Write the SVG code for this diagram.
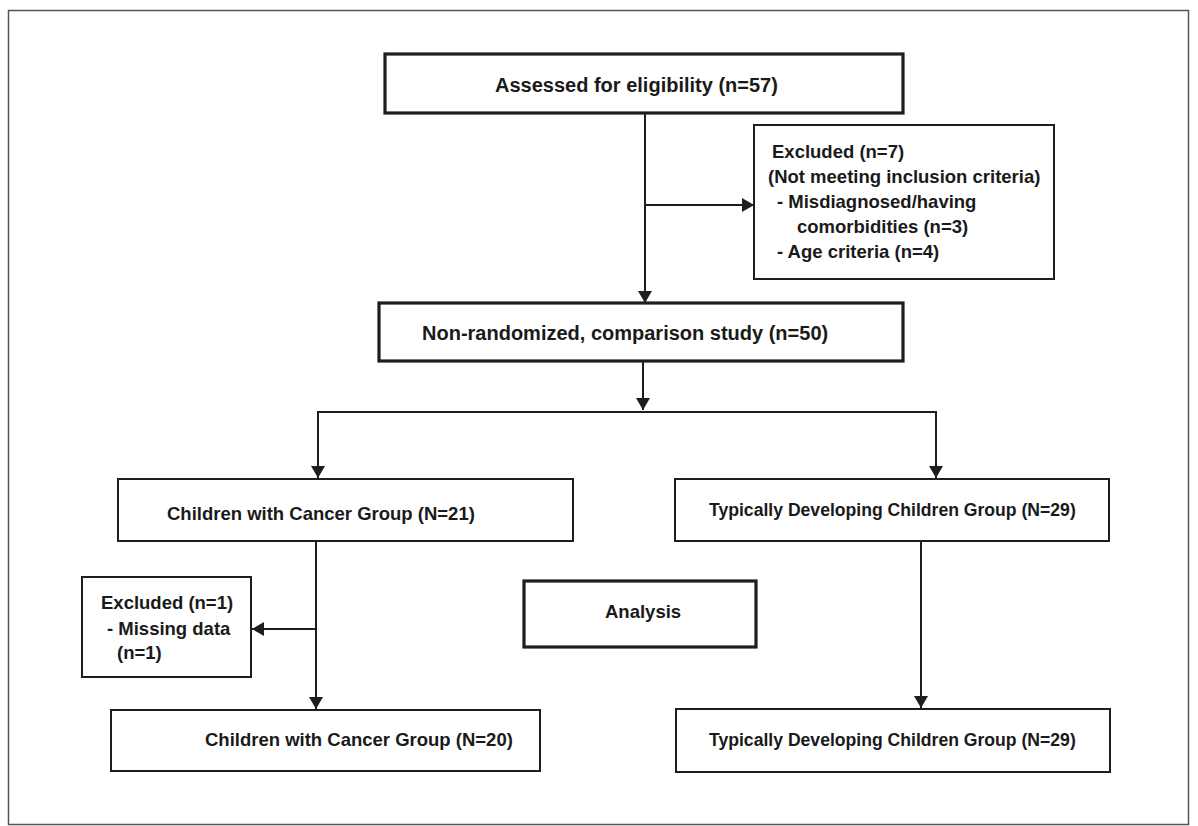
<svg xmlns="http://www.w3.org/2000/svg" width="1198" height="826" viewBox="0 0 1198 826">
<style>
  .box{fill:#fff;stroke:#1e1e1e;stroke-width:2}
  .thick{stroke-width:3.2}
  .t{font-family:"Liberation Sans",Arial,sans-serif;font-weight:bold;fill:#1a1a1a;font-size:18.5px}
  .big{font-size:20px}
  .c{stroke:#1e1e1e;stroke-width:2;fill:none}
</style>
<defs>
  <marker id="ah" markerUnits="userSpaceOnUse" markerWidth="12" markerHeight="14" viewBox="0 0 12 14" refX="12" refY="7" orient="auto">
    <path d="M0,0 L12,7 L0,14 Z" fill="#1e1e1e"/>
  </marker>
</defs>
<rect x="0" y="0" width="1198" height="826" fill="#fff"/>
<rect x="8.5" y="10.5" width="1180" height="814" fill="none" stroke="#555" stroke-width="1.5"/>

<g id="connectors">
  <line class="c" x1="645" y1="114" x2="645" y2="303" marker-end="url(#ah)"/>
  <line class="c" x1="645" y1="205" x2="754" y2="205" marker-end="url(#ah)"/>
  <line class="c" x1="643" y1="362" x2="643" y2="410" marker-end="url(#ah)"/>
  <line class="c" x1="317" y1="412" x2="937" y2="412"/>
  <line class="c" x1="318" y1="411" x2="318" y2="478" marker-end="url(#ah)"/>
  <line class="c" x1="936" y1="411" x2="936" y2="478" marker-end="url(#ah)"/>
  <line class="c" x1="316" y1="542" x2="316" y2="709" marker-end="url(#ah)"/>
  <line class="c" x1="316" y1="629" x2="252" y2="629" marker-end="url(#ah)"/>
  <line class="c" x1="921" y1="542" x2="921" y2="708" marker-end="url(#ah)"/>
</g>

<g id="assessed">
  <rect class="box thick" x="385" y="54" width="518" height="59"/>
  <text class="t big" x="495" y="92">Assessed for eligibility (n=57)</text>
</g>

<g id="excluded7">
  <rect class="box" x="754" y="125" width="300" height="154"/>
  <text class="t" x="772" y="158">Excluded (n=7)</text>
  <text class="t" x="768" y="183">(Not meeting inclusion criteria)</text>
  <text class="t" x="777" y="208">- Misdiagnosed/having</text>
  <text class="t" x="797" y="233">comorbidities (n=3)</text>
  <text class="t" x="777" y="258">- Age criteria (n=4)</text>
</g>

<g id="nonrandomized">
  <rect class="box thick" x="379" y="303" width="524" height="58"/>
  <text class="t big" x="422" y="340">Non-randomized, comparison study (n=50)</text>
</g>

<g id="cancer21">
  <rect class="box" x="118" y="479" width="455" height="62"/>
  <text class="t" x="167" y="520">Children with Cancer Group (N=21)</text>
</g>

<g id="typical29a">
  <rect class="box" x="675" y="479" width="434" height="62"/>
  <text class="t" style="font-size:17.6px" x="709" y="516">Typically Developing Children Group (N=29)</text>
</g>

<g id="excluded1">
  <rect class="box" x="82" y="577" width="169" height="100"/>
  <text class="t" x="101" y="609">Excluded (n=1)</text>
  <text class="t" x="107" y="635">- Missing data</text>
  <text class="t" x="117" y="659">(n=1)</text>
</g>

<g id="analysis">
  <rect class="box thick" x="524" y="581" width="232" height="66"/>
  <text class="t" x="605" y="618">Analysis</text>
</g>

<g id="cancer20">
  <rect class="box" x="111" y="710" width="429" height="61"/>
  <text class="t" x="205" y="746">Children with Cancer Group (N=20)</text>
</g>

<g id="typical29b">
  <rect class="box" x="676" y="709" width="434" height="63"/>
  <text class="t" style="font-size:17.6px" x="709" y="746">Typically Developing Children Group (N=29)</text>
</g>
</svg>
